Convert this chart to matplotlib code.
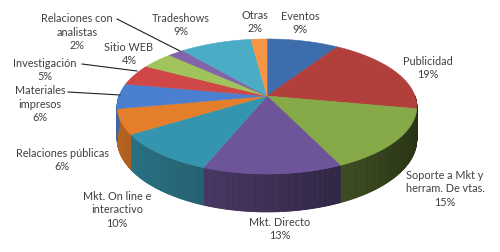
import numpy as np
import matplotlib
matplotlib.use("Agg")
import matplotlib.pyplot as plt
from matplotlib.colors import to_rgb

categories = ["Eventos", "Publicidad", "Soporte a Mkt y\nherram. De vtas.", "Mkt. Directo",
              "Mkt. On line e\ninteractivo", "Relaciones públicas", "Materiales\nimpresos",
              "Investigación", "Sitio WEB", "Relaciones con\nanalistas", "Tradeshows", "Otras"]
values = [9, 19, 15, 13, 10, 6, 6, 5, 4, 2, 9, 2]
colors = ["#3E6DAE", "#B13F3C", "#86AA48", "#6E559A", "#3695AE", "#E57E2A",
          "#4B7FD0", "#D04747", "#A0C35C", "#8464A8", "#4BACC6", "#F79646"]

# label text centres (pixels) and leader lines
label_pos = [(300, 23), (428, 68), (445, 189), (280, 229), (117, 210), (62, 160),
             (40, 104), (45, 70), (129, 54), (77, 32), (181, 25), (255, 22)]
leaders = {9: [(117, 20), (180, 52)], 7: [(82, 65), (137, 72)], 6: [(68, 93), (120, 96)]}

W, H = 500, 253
fig = plt.figure(figsize=(W / 100, H / 100), dpi=100)
ax = fig.add_axes([0, 0, 1, 1])
ax.set_xlim(0, W)
ax.set_ylim(H, 0)
ax.axis("off")

cx, cy = 267.0, 97.0
k = 0.1556
A = 65.87
R = 148.0
D = 32.0


def proj(theta):
    c, s = np.cos(theta), np.sin(theta)
    f = 1 + k * s
    return cx + R * c / f, cy - A * s / f, D / f


total = float(sum(values))
cum = np.concatenate([[0], np.cumsum(values)]) / total
starts = np.pi / 2 - 2 * np.pi * cum[:-1]
ends = np.pi / 2 - 2 * np.pi * cum[1:]

# sides (visible front part: sin(theta) < 0)
for i in range(len(values)):
    a0, a1 = ends[i], starts[i]  # a0 < a1
    base = np.array(to_rgb(colors[i]))
    ths = np.linspace(a0, a1, max(int((a1 - a0) / 0.01), 2))
    for t0, t1 in zip(ths[:-1], ths[1:]):
        tm = 0.5 * (t0 + t1)
        if np.sin(tm) >= 0.0:
            continue
        x0, y0, d0 = proj(t0)
        x1, y1, d1 = proj(t1)
        fac = 0.55 - 0.25 * np.cos(tm)
        col = np.clip(base * fac, 0, 1)
        ax.fill([x0, x1, x1, x0], [y0, y1, y1 + d1, y0 + d0], color=col,
                lw=0.6, ec=col, zorder=2)

# tops
for i in range(len(values)):
    ths = np.linspace(starts[i], ends[i], 80)
    xs, ys, _ = proj(ths)
    px = np.concatenate([[cx], xs])
    py = np.concatenate([[cy], ys])
    ax.fill(px, py, color=colors[i], lw=0.4, ec=colors[i], zorder=3)

pct = [f"{v}%" for v in values]
for i, (lab, (lx, ly)) in enumerate(zip(categories, label_pos)):
    ax.text(lx, ly, f"{lab}\n{pct[i]}", ha="center", va="center", fontsize=7.8,
            family="Lato", color="#404040", linespacing=1.3, zorder=5)

for i, pts in leaders.items():
    ax.plot([p[0] for p in pts], [p[1] for p in pts], color="#202020", lw=0.8, zorder=4)

fig.savefig("out.png", dpi=100)
